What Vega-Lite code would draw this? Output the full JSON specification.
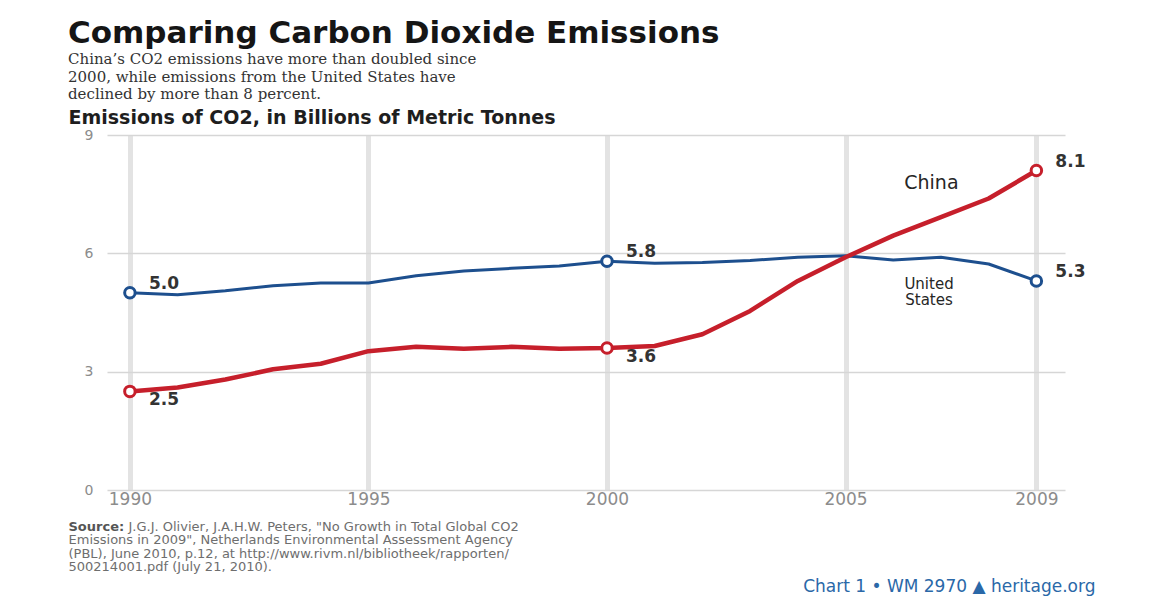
{
  "$schema": "https://vega.github.io/schema/vega-lite/v6.json",
  "autosize": "none",
  "width": 958,
  "height": 355,
  "padding": {"left": 107, "top": 135, "right": 99, "bottom": 114},
  "background": "white",
  "title": {
    "text": "Comparing Carbon Dioxide Emissions",
    "subtitle": [
      "China’s CO2 emissions have more than doubled since",
      "2000, while emissions from the United States have",
      "declined by more than 8 percent."
    ],
    "anchor": "start",
    "frame": "bounds",
    "font": "DejaVu Sans",
    "fontSize": 31,
    "fontWeight": "bold",
    "color": "#151515",
    "subtitleFont": "DejaVu Serif",
    "subtitleFontSize": 15,
    "subtitleColor": "#333333",
    "subtitleLineHeight": 17.5,
    "subtitlePadding": 2,
    "offset": 5
  },
  "datasets": {
    "emissions": [
      {"year": 1990, "series": "United States", "value": 5.0},
      {"year": 1991, "series": "United States", "value": 4.95},
      {"year": 1992, "series": "United States", "value": 5.05},
      {"year": 1993, "series": "United States", "value": 5.18},
      {"year": 1994, "series": "United States", "value": 5.25},
      {"year": 1995, "series": "United States", "value": 5.25},
      {"year": 1996, "series": "United States", "value": 5.43},
      {"year": 1997, "series": "United States", "value": 5.55},
      {"year": 1998, "series": "United States", "value": 5.62},
      {"year": 1999, "series": "United States", "value": 5.68},
      {"year": 2000, "series": "United States", "value": 5.8},
      {"year": 2001, "series": "United States", "value": 5.75},
      {"year": 2002, "series": "United States", "value": 5.77},
      {"year": 2003, "series": "United States", "value": 5.82},
      {"year": 2004, "series": "United States", "value": 5.9},
      {"year": 2005, "series": "United States", "value": 5.94},
      {"year": 2006, "series": "United States", "value": 5.83},
      {"year": 2007, "series": "United States", "value": 5.9},
      {"year": 2008, "series": "United States", "value": 5.73},
      {"year": 2009, "series": "United States", "value": 5.3},
      {"year": 1990, "series": "China", "value": 2.5},
      {"year": 1991, "series": "China", "value": 2.6},
      {"year": 1992, "series": "China", "value": 2.8},
      {"year": 1993, "series": "China", "value": 3.06},
      {"year": 1994, "series": "China", "value": 3.2},
      {"year": 1995, "series": "China", "value": 3.52},
      {"year": 1996, "series": "China", "value": 3.63},
      {"year": 1997, "series": "China", "value": 3.58},
      {"year": 1998, "series": "China", "value": 3.63},
      {"year": 1999, "series": "China", "value": 3.58},
      {"year": 2000, "series": "China", "value": 3.6},
      {"year": 2001, "series": "China", "value": 3.65},
      {"year": 2002, "series": "China", "value": 3.95},
      {"year": 2003, "series": "China", "value": 4.54},
      {"year": 2004, "series": "China", "value": 5.3},
      {"year": 2005, "series": "China", "value": 5.9},
      {"year": 2006, "series": "China", "value": 6.45},
      {"year": 2007, "series": "China", "value": 6.92},
      {"year": 2008, "series": "China", "value": 7.39},
      {"year": 2009, "series": "China", "value": 8.1}
    ],
    "chinaName": [
      {"year": 2006.8, "value": 7.78, "name": "China"}
    ],
    "usName": [
      {"year": 2006.75, "value": 5.22, "name": "United\nStates"}
    ]
  },
  "layer": [
    {
      "data": {"name": "emissions"},
      "encoding": {
        "x": {
          "field": "year",
          "type": "quantitative",
          "scale": {"domain": [1989.52, 2009.6], "nice": false, "zero": false},
          "axis": {
            "orient": "bottom",
            "values": [1990, 1995, 2000, 2005, 2009],
            "format": "d",
            "labelFont": "DejaVu Sans",
            "labelFontSize": 17,
            "labelColor": "#8c8c8c",
            "labelPadding": 1,
            "labelFlush": false,
            "ticks": false,
            "domain": false,
            "grid": true,
            "gridColor": "#e3e3e3",
            "gridWidth": 5,
            "title": [
              "Emissions in 2009\", Netherlands Environmental Assessment Agency",
              "(PBL), June 2010, p.12, at http://www.rivm.nl/bibliotheek/rapporten/",
              "500214001.pdf (July 21, 2010)."
            ],
            "titleFont": "DejaVu Sans",
            "titleFontSize": 13,
            "titleFontWeight": "normal",
            "titleColor": "#6e6e6e",
            "titleLineHeight": 13.5,
            "titleAngle": 0,
            "titleAlign": "left",
            "titleBaseline": "alphabetic",
            "titleX": -39,
            "titleY": 53.5
          }
        },
        "y": {
          "field": "value",
          "type": "quantitative",
          "scale": {"domain": [0, 9], "nice": false},
          "axis": {
            "values": [0, 3, 6, 9],
            "labelFont": "DejaVu Sans",
            "labelFontSize": 14,
            "labelColor": "#8c8c8c",
            "labelPadding": 14,
            "ticks": false,
            "domain": false,
            "grid": true,
            "gridColor": "#d6d6d6",
            "gridWidth": 1.3,
            "title": "Emissions of CO2, in Billions of Metric Tonnes",
            "titleFont": "DejaVu Sans",
            "titleFontSize": 19,
            "titleFontWeight": "bold",
            "titleColor": "#1e1e1e",
            "titleAngle": 0,
            "titleAlign": "left",
            "titleBaseline": "alphabetic",
            "titleX": -39,
            "titleY": -12
          }
        }
      },
      "layer": [
        {
          "mark": {"type": "line", "strokeCap": "round", "strokeJoin": "round"},
          "encoding": {
            "stroke": {
              "field": "series",
              "type": "nominal",
              "scale": {"domain": ["China", "United States"], "range": ["#c61f2b", "#1d4f8e"]},
              "legend": null
            },
            "strokeWidth": {
              "field": "series",
              "type": "nominal",
              "scale": {"domain": ["China", "United States"], "range": [4.5, 3]},
              "legend": null
            }
          }
        },
        {
          "transform": [{"filter": {"field": "year", "oneOf": [1990, 2000, 2009]}}],
          "mark": {"type": "point", "shape": "circle", "filled": true, "fill": "white", "strokeWidth": 3, "size": 110, "opacity": 1},
          "encoding": {
            "stroke": {
              "field": "series",
              "type": "nominal",
              "scale": {"domain": ["China", "United States"], "range": ["#c61f2b", "#1d4f8e"]},
              "legend": null
            }
          }
        },
        {
          "transform": [
            {"filter": {"field": "year", "oneOf": [1990, 2000, 2009]}},
            {"filter": "datum.series === 'United States' || datum.year === 2009"}
          ],
          "mark": {"type": "text", "align": "left", "baseline": "middle", "dx": 19, "dy": -9, "font": "DejaVu Sans", "fontSize": 17, "fontWeight": "bold", "fill": "#333333"},
          "encoding": {"text": {"field": "value", "type": "quantitative", "format": ".1f"}}
        },
        {
          "transform": [
            {"filter": {"field": "year", "oneOf": [1990, 2000]}},
            {"filter": "datum.series === 'China'"}
          ],
          "mark": {"type": "text", "align": "left", "baseline": "middle", "dx": 19, "dy": 9, "font": "DejaVu Sans", "fontSize": 17, "fontWeight": "bold", "fill": "#333333"},
          "encoding": {"text": {"field": "value", "type": "quantitative", "format": ".1f"}}
        }
      ]
    },
    {
      "data": {"name": "chinaName"},
      "mark": {"type": "text", "align": "center", "baseline": "middle", "font": "DejaVu Sans", "fontSize": 19, "fill": "#262626"},
      "encoding": {
        "x": {
          "field": "year",
          "type": "quantitative",
          "scale": {"domain": [1989.52, 2009.6], "nice": false, "zero": false},
          "axis": {
            "orient": "top",
            "labels": false,
            "ticks": false,
            "domain": false,
            "grid": false,
            "title": "Source:",
            "titleFont": "DejaVu Sans",
            "titleFontSize": 13,
            "titleFontWeight": "bold",
            "titleColor": "#555555",
            "titleAngle": 0,
            "titleAlign": "left",
            "titleBaseline": "alphabetic",
            "titleX": -39,
            "titleY": 395
          }
        },
        "y": {
          "field": "value",
          "type": "quantitative",
          "scale": {"domain": [0, 9], "nice": false},
          "axis": {
            "orient": "right",
            "labels": false,
            "ticks": false,
            "domain": false,
            "grid": false,
            "title": "Chart 1  •  WM 2970  ▲  heritage.org",
            "titleFont": "DejaVu Sans",
            "titleFontSize": 17,
            "titleFontWeight": "normal",
            "titleColor": "#2a68a8",
            "titleAngle": 0,
            "titleAlign": "right",
            "titleBaseline": "alphabetic",
            "titleX": 30,
            "titleY": 456
          }
        },
        "text": {"field": "name", "type": "nominal"}
      }
    },
    {
      "data": {"name": "usName"},
      "mark": {"type": "text", "align": "center", "baseline": "middle", "font": "DejaVu Sans", "fontSize": 15, "lineBreak": "\n", "lineHeight": 16, "fill": "#262626"},
      "encoding": {
        "x": {
          "field": "year",
          "type": "quantitative",
          "scale": {"domain": [1989.52, 2009.6], "nice": false, "zero": false},
          "axis": {
            "orient": "bottom",
            "labels": false,
            "ticks": false,
            "domain": false,
            "grid": false,
            "title": "J.G.J. Olivier, J.A.H.W. Peters, \"No Growth in Total Global CO2",
            "titleFont": "DejaVu Sans",
            "titleFontSize": 13,
            "titleFontWeight": "normal",
            "titleColor": "#6e6e6e",
            "titleAngle": 0,
            "titleAlign": "left",
            "titleBaseline": "alphabetic",
            "titleX": 21,
            "titleY": 40
          }
        },
        "y": {
          "field": "value",
          "type": "quantitative",
          "scale": {"domain": [0, 9], "nice": false},
          "axis": null
        },
        "text": {"field": "name", "type": "nominal"}
      }
    }
  ],
  "resolve": {"scale": {"x": "independent", "y": "independent"}},
  "config": {"view": {"stroke": null}}
}
